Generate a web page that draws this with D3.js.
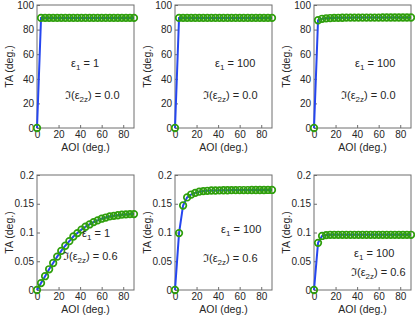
<!DOCTYPE html>
<html><head><meta charset="utf-8">
<script src="https://cdn.jsdelivr.net/npm/d3@7"></script>
<style>
body{margin:0;background:#fff;}
svg{display:block;font-family:"Liberation Sans",Arial,sans-serif;}
</style></head><body>
<svg id="c" width="415" height="319"></svg>
<script>
// ---- data ----
const aoi = [0,3.75,7.5,11.25,15,18.75,22.5,26.25,30,33.75,37.5,41.25,45,48.75,52.5,56.25,60,63.75,67.5,71.25,75,78.75,82.5,86.25,90];
const ta1 = [0,89.5,89.5,89.5,89.5,89.5,89.5,89.5,89.5,89.5,89.5,89.5,89.5,89.5,89.5,89.5,89.5,89.5,89.5,89.5,89.5,89.5,89.5,89.5,89.5];
const ta2 = [0,89.5,89.5,89.5,89.5,89.5,89.5,89.5,89.5,89.5,89.5,89.5,89.5,89.5,89.5,89.5,89.5,89.5,89.5,89.5,89.5,89.5,89.5,89.5,89.5];
const ta3 = [0,87.6,88.8,89.2,89.4,89.5,89.6,89.65,89.7,89.7,89.75,89.75,89.8,89.8,89.8,89.8,89.8,89.85,89.85,89.85,89.85,89.85,89.85,89.85,89.85];
const ta4 = [0,0.012,0.024,0.036,0.047,0.058,0.068,0.077,0.085,0.093,0.099,0.105,0.110,0.114,0.118,0.121,0.124,0.126,0.128,0.129,0.130,0.131,0.1315,0.132,0.132];
const ta5 = [0,0.099,0.147,0.161,0.166,0.169,0.171,0.172,0.1725,0.173,0.173,0.1733,0.1735,0.1735,0.1737,0.1737,0.1738,0.1738,0.1738,0.1739,0.1739,0.1739,0.1739,0.174,0.174];
const ta6 = [0,0.082,0.094,0.0955,0.096,0.096,0.096,0.096,0.096,0.096,0.096,0.096,0.096,0.096,0.096,0.096,0.096,0.096,0.096,0.096,0.096,0.096,0.096,0.096,0.096];
const eps1Labels = ["1","100","100","1","100","100"];
const imagLabels = ["0.0","0.0","0.0","0.6","0.6","0.6"];
const xTicks = [0,20,40,60,80];
const yTicksTop = [0,20,40,60,80,100];
const yTicksBot = [0,0.05,0.1,0.15,0.2];

// ---- layout ----
const svg = d3.select("#c");
const cols = [[37,134],[175,272],[314,411]];
const rows = [[5,128],[175,290]];
const panels = [
  {c:0,r:0,data:ta1,ymax:100,ticks:yTicksTop,eps:[71,67],im:[65,99]},
  {c:1,r:0,data:ta2,ymax:100,ticks:yTicksTop,eps:[215,67],im:[203,99]},
  {c:2,r:0,data:ta3,ymax:100,ticks:yTicksTop,eps:[355,67],im:[341,99]},
  {c:0,r:1,data:ta4,ymax:0.2,ticks:yTicksBot,eps:[82,237],im:[63,260]},
  {c:1,r:1,data:ta5,ymax:0.2,ticks:yTicksBot,eps:[221,233],im:[203,262]},
  {c:2,r:1,data:ta6,ymax:0.2,ticks:yTicksBot,eps:[354,257],im:[351,276]}
];
const frameColor = "#6e6e6e", textColor = "#262626";
const lineColor = "#2546f0", dotColor = "#2f9f0c";

panels.forEach((p,i)=>{
  const [x0,x1] = cols[p.c], [y0,y1] = rows[p.r];
  const x = d3.scaleLinear().domain([0,90]).range([x0,x1]);
  const y = d3.scaleLinear().domain([0,p.ymax]).range([y1,y0]);
  const g = svg.append("g");
  const xa = g.append("g").attr("transform",`translate(0,${y1})`)
    .call(d3.axisBottom(x).tickValues(xTicks).tickSize(-3).tickPadding(3));
  const ya = g.append("g").attr("transform",`translate(${x0},0)`)
    .call(d3.axisLeft(y).tickValues(p.ticks).tickFormat(d=>String(d)).tickSize(-3).tickPadding(3));
  [xa,ya].forEach(a=>{
    a.select(".domain").remove();
    a.selectAll("line").attr("stroke",frameColor);
    a.selectAll("text").attr("fill",textColor).style("font-size","10px");
  });
  g.append("rect").attr("x",x0).attr("y",y0).attr("width",x1-x0).attr("height",y1-y0)
    .attr("fill","none").attr("stroke",frameColor).attr("stroke-width",1);
  const pts = aoi.map((a,k)=>[a,p.data[k]]);
  g.append("path").datum(pts)
    .attr("d",d3.line().x(d=>x(d[0])).y(d=>y(d[1])))
    .attr("fill","none").attr("stroke",lineColor).attr("stroke-width",2);
  g.selectAll("circle.pt").data(pts).join("circle").attr("class","pt")
    .attr("cx",d=>x(d[0])).attr("cy",d=>y(d[1])).attr("r",3.3)
    .attr("fill","none").attr("stroke",dotColor).attr("stroke-width",1.7);
  g.append("text").attr("x",(x0+x1)/2).attr("y",y1+23).attr("text-anchor","middle")
    .attr("fill",textColor).style("font-size","10.5px").text("AOI (deg.)");
  g.append("text").attr("transform",`translate(${x0-28},${(y0+y1)/2}) rotate(-90)`)
    .attr("text-anchor","middle").attr("dy","0.35em").attr("fill",textColor).style("font-size","10.5px").text("TA (deg.)");
  const t1 = g.append("text").attr("x",p.eps[0]).attr("y",p.eps[1]).attr("fill",textColor).style("font-size","11px");
  t1.append("tspan").text("ε");
  t1.append("tspan").attr("dy",3).style("font-size","8px").text("1");
  t1.append("tspan").attr("dy",-3).text(" = "+eps1Labels[i]);
  const t2 = g.append("text").attr("x",p.im[0]).attr("y",p.im[1]).attr("fill",textColor).style("font-size","11px");
  t2.append("tspan").text("ℑ(ε");
  t2.append("tspan").attr("dy",3).style("font-size","8px").text("2z");
  t2.append("tspan").attr("dy",-3).text(") = "+imagLabels[i]);
});
</script></body></html>
